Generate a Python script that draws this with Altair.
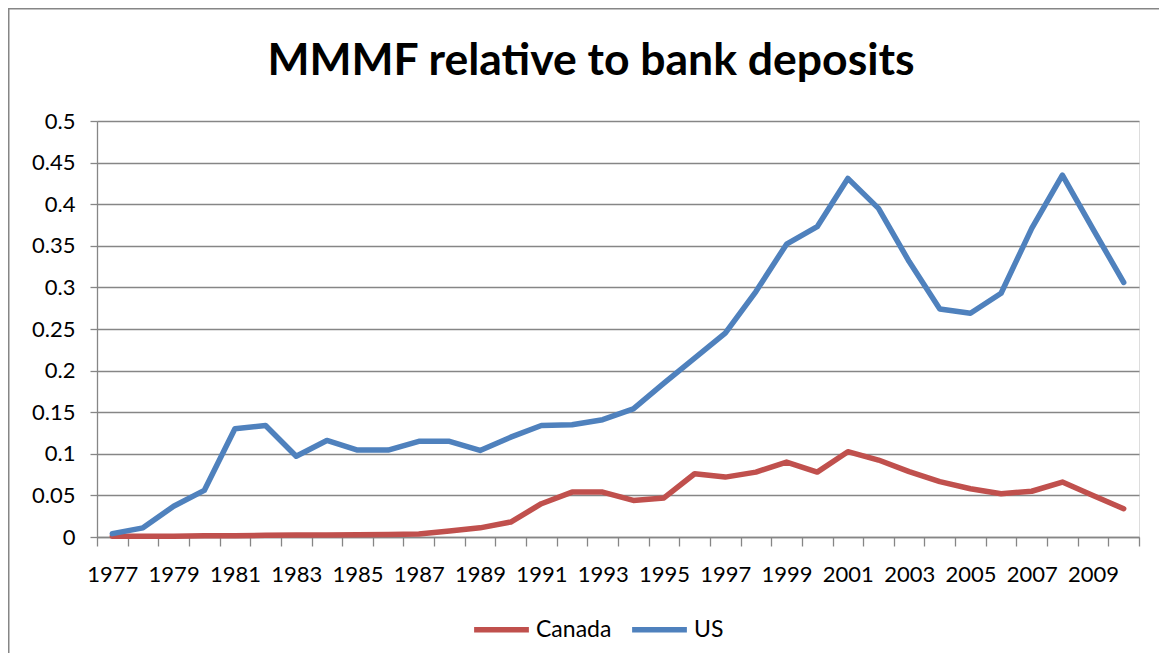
import altair as alt
import pandas as pd

years = list(range(1977, 2011))
canada = [0.001, 0.001, 0.001, 0.0015, 0.0015, 0.002, 0.0025, 0.0025, 0.0028, 0.003,
          0.0036, 0.0072, 0.011, 0.018, 0.040, 0.054, 0.054, 0.044, 0.047, 0.076,
          0.072, 0.078, 0.090, 0.078, 0.1025, 0.0925, 0.0785, 0.0665, 0.058, 0.052,
          0.055, 0.066, 0.050, 0.034]
us = [0.004, 0.011, 0.037, 0.056, 0.130, 0.134, 0.097, 0.116, 0.1045, 0.1045,
      0.115, 0.115, 0.104, 0.120, 0.134, 0.135, 0.141, 0.154, 0.185, 0.215,
      0.245, 0.295, 0.352, 0.373, 0.431, 0.395, 0.331, 0.274, 0.269, 0.293,
      0.371, 0.435, 0.370, 0.306]
series_names = ["Canada", "US"]
series_colors = ["#C0504D", "#4F81BD"]
y_ticks = [0, 0.05, 0.1, 0.15, 0.2, 0.25, 0.3, 0.35, 0.4, 0.45, 0.5]
title_text = ["MMMF relative to bank deposits"]

df = pd.DataFrame(
    [{"year": y, "series": "Canada", "value": v} for y, v in zip(years, canada)]
    + [{"year": y, "series": "US", "value": v} for y, v in zip(years, us)]
)

W, H = 1042, 416
PL, PT, PR, PB = 89, 113, 20, 116
FONT = "Lato"

lines = alt.Chart(df).mark_line(strokeWidth=5.5, strokeCap="round", strokeJoin="round").encode(
    x=alt.X("year:O", title=None,
            scale=alt.Scale(type="band", paddingInner=0, paddingOuter=0),
            axis=alt.Axis(labelAngle=0, tickBand="extent", labelOverlap=False,
                          labelExpr="datum.value % 2 == 1 ? datum.label : ''",
                          tickSize=9, labelPadding=18, grid=False,
                          domainColor="#868686", tickColor="#868686",
                          domainWidth=1.3, tickWidth=1.3,
                          labelFont=FONT, labelFontSize=22, labelColor="#000000")),
    y=alt.Y("value:Q", title=None,
            scale=alt.Scale(domain=[0, 0.5], nice=False),
            axis=alt.Axis(values=y_ticks, format="~g", tickSize=7, labelPadding=15,
                          gridColor="#868686", gridWidth=1.3,
                          domainColor="#868686", tickColor="#868686",
                          domainWidth=1.3, tickWidth=1.3,
                          labelFont=FONT, labelFontSize=22, labelColor="#000000")),
    color=alt.Color("series:N", title=None,
                    scale=alt.Scale(domain=series_names, range=series_colors),
                    legend=alt.Legend(orient="none", legendX=374, legendY=478,
                                      direction="horizontal", symbolType="stroke",
                                      symbolSize=3000, symbolStrokeWidth=5.5,
                                      labelFont=FONT, labelFontSize=23, labelColor="#000000",
                                      labelOffset=4, columnPadding=9, padding=0)),
)

frame = alt.Chart(pd.DataFrame({"f": [0]})).mark_rect(
    fill=None, stroke="#868686", strokeWidth=1.5
).encode(
    x=alt.value(-PL + 0.75), x2=alt.value(W + PR + 40),
    y=alt.value(-PT + 0.75), y2=alt.value(H + PB + 40),
)

title = alt.Chart(pd.DataFrame({"t": title_text})).mark_text(
    font=FONT, fontSize=44.5, fontWeight="bold", color="#000000",
    align="center", baseline="alphabetic"
).encode(
    text="t:N", x=alt.value(W / 2 - 27), y=alt.value(-46),
)

chart = alt.layer(frame, lines, title).properties(
    width=W, height=H,
    autosize=alt.AutoSizeParams(type="none"),
    padding={"left": PL, "top": PT, "right": PR, "bottom": PB},
).configure_view(stroke=None).configure(background="white")

chart.save("out.html", embed_options={"renderer": "svg", "actions": False})
